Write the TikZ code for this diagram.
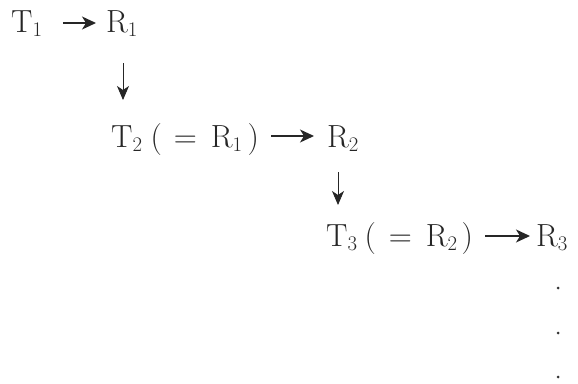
\documentclass[tikz,border=0pt]{standalone}
\usetikzlibrary{arrows.meta}
\begin{document}
\begin{tikzpicture}[x=1pt,y=-1pt, font=\fontsize{32}{38}\selectfont,
  lbl/.style={inner sep=0pt, anchor=base west, text=black!85},
  harrow/.style={draw=black!85, line width=1.3pt, -{Stealth[length=14pt,width=13pt,inset=4pt]}},
  varrow/.style={draw=black!85, line width=0.9pt, -{Stealth[length=14pt,width=12pt,inset=4pt]}},
  dotn/.style={circle, fill=black!80, inner sep=0pt, minimum size=3pt}]
\useasboundingbox (0,0) rectangle (578,383);
% line 1
\node[lbl] (t1) at (11,32) {T$_1$};
\node[lbl] (r1) at (106,32) {R$_1$};
% line 2
\node[lbl] (t2) at (111,147) {T$_2$\hspace{8pt}(\hspace{12pt}=\hspace{14pt}R$_1$\hspace{5pt})};
\node[lbl] (r2) at (327,147) {R$_2$};
% line 3
\node[lbl] (t3) at (326,246) {T$_3$\hspace{7pt}(\hspace{13pt}=\hspace{14pt}R$_2$\hspace{4pt})};
\node[lbl] (r3) at (536,246) {R$_3$};
% dots
\node[dotn] (d1) at (558,288) {};
\node[dotn] (d2) at (558,333) {};
\node[dotn] (d3) at (558,377) {};
% horizontal arrows
\draw[harrow] ([xshift=20pt,yshift=9pt]t1.base east) -- ([xshift=-10pt,yshift=9pt]r1.base west);
\draw[harrow] ([xshift=12pt,yshift=11pt]t2.base east) -- ([xshift=-13pt,yshift=11pt]r2.base west);
\draw[harrow] ([xshift=12pt,yshift=10pt]t3.base east) -- ([xshift=-6pt,yshift=10pt]r3.base west);
% vertical arrows
\draw[varrow] ([xshift=17pt,yshift=-31pt]r1.base west) -- ([xshift=12pt,yshift=47pt]t2.base west);
\draw[varrow] ([xshift=11pt,yshift=-25pt]r2.base west) -- ([xshift=12pt,yshift=41pt]t3.base west);
\end{tikzpicture}
\end{document}
